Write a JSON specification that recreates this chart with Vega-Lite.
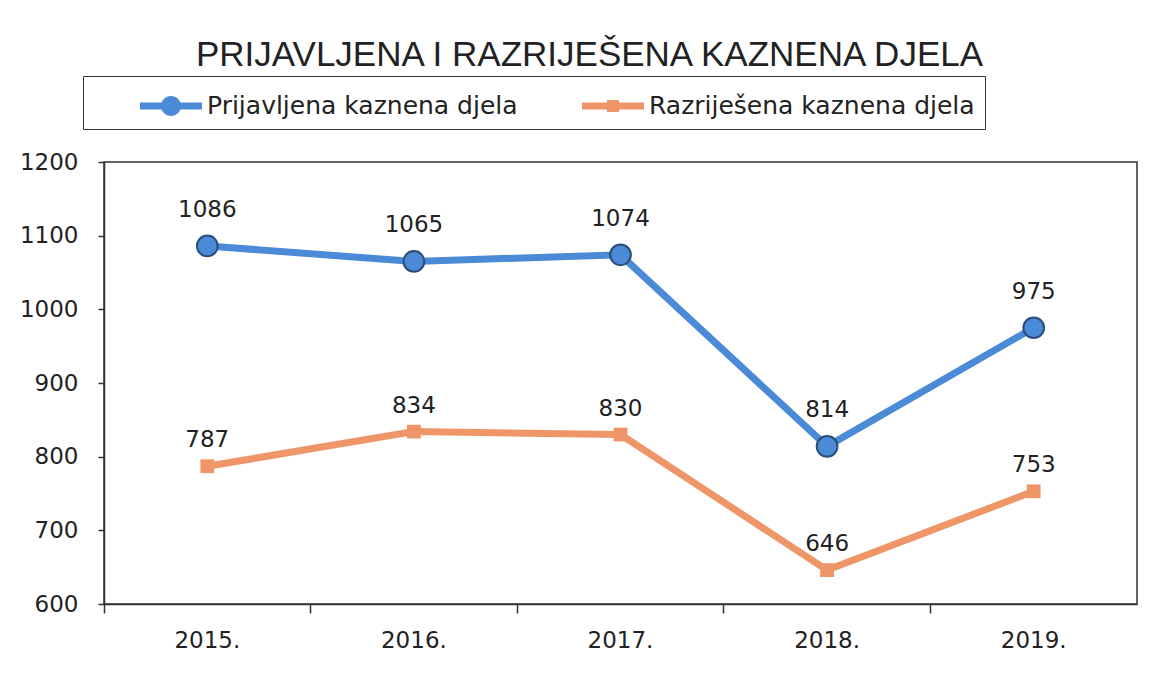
{
  "$schema": "https://vega.github.io/schema/vega-lite/v6.json",
  "width": 1033,
  "height": 442,
  "autosize": "none",
  "padding": {"left": 104, "top": 162, "right": 14, "bottom": 77},
  "background": "white",
  "title": {
    "text": "PRIJAVLJENA I RAZRIJEŠENA KAZNENA DJELA",
    "font": "Liberation Sans",
    "fontSize": 35,
    "fontWeight": "normal",
    "color": "#222222",
    "anchor": "middle",
    "frame": "group",
    "dx": -31,
    "offset": 3
  },
  "data": {
    "values": [
      {"godina": "2015.", "serija": "Prijavljena kaznena djela", "broj": 1086},
      {"godina": "2016.", "serija": "Prijavljena kaznena djela", "broj": 1065},
      {"godina": "2017.", "serija": "Prijavljena kaznena djela", "broj": 1074},
      {"godina": "2018.", "serija": "Prijavljena kaznena djela", "broj": 814},
      {"godina": "2019.", "serija": "Prijavljena kaznena djela", "broj": 975},
      {"godina": "2015.", "serija": "Razriješena kaznena djela", "broj": 787},
      {"godina": "2016.", "serija": "Razriješena kaznena djela", "broj": 834},
      {"godina": "2017.", "serija": "Razriješena kaznena djela", "broj": 830},
      {"godina": "2018.", "serija": "Razriješena kaznena djela", "broj": 646},
      {"godina": "2019.", "serija": "Razriješena kaznena djela", "broj": 753}
    ]
  },
  "encoding": {
    "x": {
      "field": "godina",
      "type": "ordinal",
      "sort": null,
      "scale": {"type": "band", "paddingInner": 0, "paddingOuter": 0},
      "axis": {
        "title": null,
        "bandPosition": 0,
        "labelAngle": 0,
        "labelFont": "DejaVu Sans",
        "labelFontSize": 23,
        "labelColor": "#222222",
        "tickSize": 9,
        "tickColor": "#333333",
        "tickWidth": 1.5,
        "labelPadding": 16,
        "domainColor": "#333333",
        "domainWidth": 1.5,
        "grid": false
      }
    },
    "y": {
      "field": "broj",
      "type": "quantitative",
      "scale": {"domain": [600, 1200], "nice": false, "zero": false},
      "axis": {
        "title": null,
        "values": [600, 700, 800, 900, 1000, 1100, 1200],
        "format": "d",
        "labelFont": "DejaVu Sans",
        "labelFontSize": 23,
        "labelColor": "#222222",
        "tickSize": 6,
        "tickColor": "#333333",
        "tickWidth": 1.5,
        "labelPadding": 20,
        "domainColor": "#333333",
        "domainWidth": 1.5,
        "grid": false
      }
    }
  },
  "layer": [
    {
      "mark": {"type": "line", "strokeWidth": 7},
      "encoding": {
        "color": {
          "field": "serija",
          "type": "nominal",
          "scale": {
            "domain": ["Prijavljena kaznena djela", "Razriješena kaznena djela"],
            "range": ["#4a8ad6", "#ef9668"]
          },
          "legend": {
            "orient": "none",
            "legendX": -21,
            "legendY": -86,
            "direction": "horizontal",
            "title": null,
            "strokeColor": "#333333",
            "fillColor": "white",
            "padding": 10,
            "labelFont": "DejaVu Sans",
            "labelFontSize": 25,
            "labelColor": "#222222",
            "labelLimit": 0,
            "symbolSize": 1600,
            "symbolStrokeWidth": 0,
            "symbolOffset": 58,
            "labelOffset": 16,
            "columnPadding": 17,
            "encode": {
              "labels": {
                "update": {
                  "text": {"signal": "datum.index === 1 ? datum.label + '\u2003\u2003' : datum.label"}
                }
              },
              "symbols": {
                "update": {
                  "shape": {"signal": "datum.index === 0 ? 'M-1.55,-0.175H1.55V0.175H-1.55Z M0.5,0A0.5,0.5 0 1,1 -0.5,0A0.5,0.5 0 1,1 0.5,0Z' : 'M-1.55,-0.175H1.55V0.175H-1.55Z M-0.3,-0.3H0.3V0.3H-0.3Z'"},
                  "fill": {"signal": "datum.index === 0 ? '#4a8ad6' : '#f2a070'"},
                  "stroke": {"value": "transparent"},
                  "strokeWidth": {"value": 0},
                  "opacity": {"value": 1}
                }
              }
            }
          }
        }
      }
    },
    {
      "transform": [{"filter": "datum.serija === 'Prijavljena kaznena djela'"}],
      "mark": {"type": "point", "shape": "circle", "filled": true, "size": 430, "stroke": "#2c4d78", "strokeWidth": 2, "opacity": 1},
      "encoding": {
        "color": {"field": "serija", "type": "nominal"}
      }
    },
    {
      "transform": [{"filter": "datum.serija === 'Razriješena kaznena djela'"}],
      "mark": {"type": "point", "shape": "square", "filled": true, "size": 190, "opacity": 1},
      "encoding": {
        "color": {"field": "serija", "type": "nominal"}
      }
    },
    {
      "transform": [{"filter": "datum.serija === 'Prijavljena kaznena djela'"}],
      "mark": {"type": "text", "font": "DejaVu Sans", "fontSize": 23, "fill": "#222222", "dy": -36},
      "encoding": {"text": {"field": "broj", "type": "quantitative"}}
    },
    {
      "transform": [{"filter": "datum.serija === 'Razriješena kaznena djela'"}],
      "mark": {"type": "text", "font": "DejaVu Sans", "fontSize": 23, "fill": "#222222", "dy": -26},
      "encoding": {"text": {"field": "broj", "type": "quantitative"}}
    }
  ],
  "config": {
    "view": {"stroke": "#333333", "strokeWidth": 1.5}
  }
}
